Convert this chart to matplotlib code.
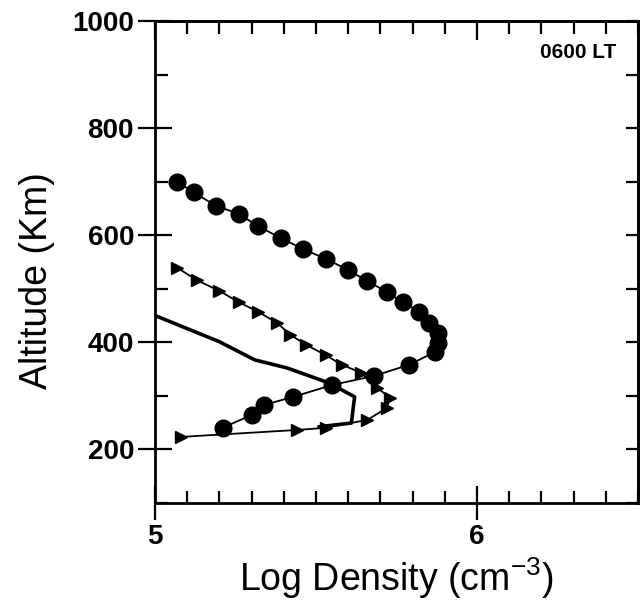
import matplotlib
matplotlib.use("Agg")
import matplotlib.pyplot as plt
from matplotlib.ticker import MultipleLocator

plt.rcParams['font.family'] = ['Liberation Sans', 'DejaVu Sans']

# Circle series (log density, altitude km)
circ_x = [5.07, 5.12, 5.19, 5.26, 5.32, 5.39, 5.46, 5.53, 5.60, 5.66, 5.72, 5.77,
          5.82, 5.85, 5.88, 5.88, 5.87, 5.79, 5.68, 5.55, 5.43, 5.34, 5.30, 5.21]
circ_y = [700, 680, 655, 640, 617, 595, 574, 556, 535, 514, 494, 475,
          457, 436, 417, 399, 382, 358, 337, 320, 298, 283, 264, 240]

# Triangle series
tri_x = [5.07, 5.13, 5.20, 5.26, 5.32, 5.38, 5.42, 5.47, 5.53, 5.58, 5.64,
         5.69, 5.73, 5.72, 5.66, 5.53, 5.44, 5.08]
tri_y = [539, 516, 496, 475, 457, 436, 414, 395, 376, 358, 343,
         315, 296, 277, 255, 240, 236, 223]

# Solid line series
line_x = [5.00, 5.20, 5.31, 5.41, 5.54, 5.62, 5.61, 5.51]
line_y = [450, 401, 367, 352, 324, 298, 249, 242]

xticks = [5, 6]
yticks = [200, 400, 600, 800, 1000]

fig = plt.figure(figsize=(6.4, 6.05), dpi=100)
ax = fig.add_axes([0.242, 0.169, 0.755, 0.796])

ax.plot(line_x, line_y, color='black', lw=2.6, solid_joinstyle='round')
ax.plot(circ_x, circ_y, color='black', lw=1.3, marker='o', ms=12,
        markerfacecolor='black', markeredgecolor='black')
ax.plot(tri_x, tri_y, color='black', lw=1.3, marker='>', ms=9,
        markerfacecolor='black', markeredgecolor='black')

ax.set_xlim(5, 6.5)
ax.set_ylim(100, 1000)
ax.set_xticks(xticks)
ax.set_yticks(yticks)
ax.xaxis.set_minor_locator(MultipleLocator(0.1))
ax.yaxis.set_minor_locator(MultipleLocator(100))
ax.set_xticklabels([str(t) for t in xticks], fontsize=20, fontweight='bold')
ax.set_yticklabels([str(t) for t in yticks], fontsize=20, fontweight='bold')

ax.tick_params(which='major', direction='inout', length=24, width=1.6, pad=3)
ax.tick_params(which='minor', direction='in', length=9, width=1.6)

# inward-only ticks on top and right
top = ax.secondary_xaxis('top')
top.set_xticks(xticks)
top.xaxis.set_minor_locator(MultipleLocator(0.1))
top.tick_params(which='major', direction='in', length=14, width=1.6, labeltop=False)
top.tick_params(which='minor', direction='in', length=9, width=1.6)
top.spines['top'].set_linewidth(2.0)

right = ax.secondary_yaxis('right')
right.set_yticks(yticks)
right.yaxis.set_minor_locator(MultipleLocator(100))
right.tick_params(which='major', direction='in', length=9, width=1.6, labelright=False)
right.tick_params(which='minor', direction='in', length=9, width=1.6)
right.spines['right'].set_linewidth(2.0)

for s in ax.spines.values():
    s.set_linewidth(2.0)

ax.set_xlabel(r'Log Density (cm$^{\mathregular{-3}}$)', fontsize=27, labelpad=4)
ax.set_ylabel('Altitude (Km)', fontsize=27)
ax.yaxis.set_label_coords(-0.207, 0.462)

ax.text(0.955, 0.935, '0600 LT', transform=ax.transAxes, fontsize=15,
        fontweight='bold', ha='right', va='center')

fig.savefig('out.png', dpi=100)
